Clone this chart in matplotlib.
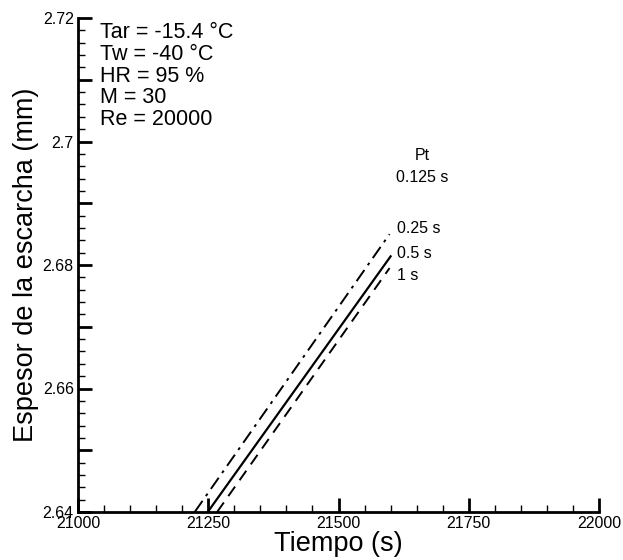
import matplotlib; matplotlib.use('Agg')
import matplotlib.pyplot as plt
from matplotlib.ticker import MultipleLocator, FixedFormatter, FixedLocator

plt.rcParams.update({
    'font.family': ['Liberation Sans', 'DejaVu Sans'],
    'font.size': 11,
})

# ── data ─────────────────────────────────────────────────────────────────────
t_025 = [21224, 21598]
e_025 = [2.6400, 2.6850]
t_05 = [21249, 21600]
e_05 = [2.6400, 2.6814]
t_1 = [21267, 21598]
e_1 = [2.6400, 2.6795]

pt_labels = ['0.25 s', '0.5 s', '1 s']
pt_label_y = [2.6859, 2.6819, 2.6783]
conditions = ['Tar = -15.4 °C', 'Tw = -40 °C', 'HR = 95 %', 'M = 30', 'Re = 20000']

fig = plt.figure(figsize=(6.23, 5.6), dpi=100)
ax = fig.add_axes([78 / 623, 1 - 512 / 560, 521 / 623, 494 / 560])

ax.plot(t_025, e_025, color='black', lw=1.4, dashes=(7, 3, 1.5, 3))
ax.plot(t_05, e_05, color='black', lw=1.6, ls='-')
ax.plot(t_1, e_1, color='black', lw=1.4, dashes=(6, 4))

ax.set_xlim(21000, 22000)
ax.set_ylim(2.64, 2.72)

# tecplot-like axes: only left/bottom, ticks pointing inward
for s in ('top', 'right'):
    ax.spines[s].set_visible(False)
for s in ('left', 'bottom'):
    ax.spines[s].set_linewidth(2)

ax.xaxis.set_major_locator(MultipleLocator(250))
ax.xaxis.set_minor_locator(MultipleLocator(50))
yticks = [2.64, 2.65, 2.66, 2.67, 2.68, 2.69, 2.70, 2.71, 2.72]
ax.yaxis.set_major_locator(FixedLocator(yticks))
ax.yaxis.set_major_formatter(FixedFormatter(['2.64', '', '2.66', '', '2.68', '', '2.7', '', '2.72']))
ax.yaxis.set_minor_locator(MultipleLocator(0.002))
ax.tick_params(which='major', direction='in', length=10, width=2, labelsize=11.5, pad=3)
ax.tick_params(which='minor', direction='in', length=5, width=1)
ax.tick_params(axis='x', which='major', pad=3)

ax.set_xlabel('Tiempo (s)', fontsize=19.5, labelpad=0)
ax.set_ylabel('Espesor de la escarcha (mm)', fontsize=19.5, labelpad=3)

ax.text(22 / 521, 1 - 4 / 494, '\n'.join(conditions), transform=ax.transAxes,
        ha='left', va='top', fontsize=15.5, linespacing=1.05)

ax.text(21660, 2.6978, 'Pt', ha='center', va='center', fontsize=11.5)
ax.text(21660, 2.6942, '0.125 s', ha='center', va='center', fontsize=11.5)
for lab, y in zip(pt_labels, pt_label_y):
    ax.text(21612, y, lab, ha='left', va='center', fontsize=11.5)

fig.savefig('out.png', dpi=100)
plt.close(fig)
